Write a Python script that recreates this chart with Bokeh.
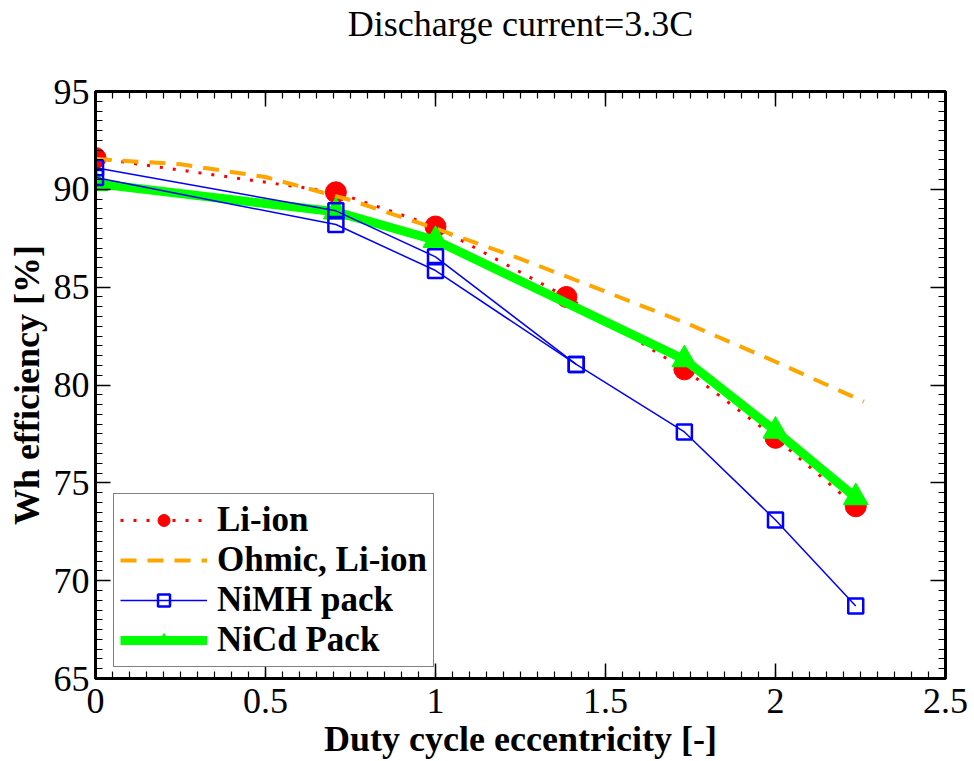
from bokeh.plotting import figure
from bokeh.models import (LinearAxis, SingleIntervalTicker, Legend, LegendItem,
                          CustomLabelingPolicy)
from bokeh.embed import file_html
from bokeh.resources import INLINE

# ---- data ----
x_li = [0.0, 0.707, 1.0, 1.385, 1.732, 2.0, 2.236]
y_li = [91.6, 89.85, 88.1, 84.5, 80.8, 77.3, 73.8]

x_ohm = [0.0, 0.25, 0.5, 0.75, 1.0, 1.25, 1.5, 1.75, 2.0, 2.26]
y_ohm = [91.55, 91.28, 90.63, 89.45, 88.0, 86.45, 84.77, 83.07, 81.19, 79.15]

x_nimh = [0.0, 0.707, 1.0, 1.414, 1.732, 2.0, 2.236]
y_nimh = [91.1, 88.9, 86.55, 81.05, 77.6, 73.1, 68.7]
x_nimh2 = [0.0, 0.707, 1.0, 1.414]
y_nimh2 = [90.6, 88.2, 85.85, 81.05]

x_nicd = [0.0, 0.707, 1.0, 1.732, 2.0, 2.236]
y_nicd = [90.3, 88.85, 87.4, 81.3, 77.65, 74.25]

x_ticks = [0, 0.5, 1, 1.5, 2, 2.5]
x_tick_labels = ["0", "0.5", "1", "1.5", "2", "2.5"]
y_ticks = [65, 70, 75, 80, 85, 90, 95]
y_tick_labels = ["65", "70", "75", "80", "85", "90", "95"]

title_text = "Discharge current=3.3C"

SERIF = "Liberation Serif"

p = figure(width=974, height=761, x_range=(0, 2.5), y_range=(65, 95),
           output_backend="svg", toolbar_location=None,
           min_border_left=95, min_border_right=29, min_border_top=91,
           min_border_bottom=74)

p.xgrid.visible = False
p.ygrid.visible = False
p.outline_line_color = "black"
p.outline_line_width = 3
p.background_fill_color = "white"
p.border_fill_color = "white"

def style_axis(ax, interval, show_labels):
    ax.ticker = SingleIntervalTicker(interval=interval, num_minor_ticks=10)
    ax.axis_line_color = "black"
    ax.axis_line_width = 3
    ax.major_tick_in = 15
    ax.major_tick_out = 0
    ax.minor_tick_in = 7
    ax.minor_tick_out = 0
    ax.major_tick_line_width = 1.5
    ax.minor_tick_line_width = 1.2
    ax.major_tick_line_color = "black"
    ax.minor_tick_line_color = "black"
    if show_labels:
        ax.major_label_text_font = SERIF
        ax.major_label_text_font_size = "36px"
        ax.major_label_text_color = "black"
        ax.axis_label_text_font = SERIF
        ax.axis_label_text_font_size = "36px"
        ax.axis_label_text_font_style = "bold"
        ax.axis_label_text_color = "black"
    else:
        ax.major_label_text_font_size = "0px"
        ax.major_label_standoff = 0
        ax.major_label_policy = CustomLabelingPolicy(code="return new Set()")

xa = p.xaxis[0]
ya = p.yaxis[0]
style_axis(xa, 0.5, True)
style_axis(ya, 5, True)
xa.major_label_overrides = dict(zip(x_ticks, x_tick_labels))
ya.major_label_overrides = dict(zip(y_ticks, y_tick_labels))
xa.axis_label = "Duty cycle eccentricity [-]"
ya.axis_label = "Wh efficiency [%]"
xa.major_label_standoff = 10
ya.major_label_standoff = 6
xa.axis_label_standoff = 3
ya.axis_label_standoff = 4

top = LinearAxis()
right = LinearAxis()
style_axis(top, 0.5, False)
style_axis(right, 5, False)
# chart title drawn as the label of the upper axis
top.axis_label = title_text
top.axis_label_text_font = SERIF
top.axis_label_text_font_size = "36px"
top.axis_label_text_font_style = "normal"
top.axis_label_text_color = "black"
top.axis_label_standoff = 48
p.add_layout(top, "above")
p.add_layout(right, "right")

# ---- series ----
li_line = p.line(x_li, y_li, line_color="red", line_width=3, line_dash="3 10")
li_pts = p.scatter(x_li, y_li, marker="circle", size=21, fill_color="red",
                   line_color="red")

ohm_line = p.line(x_ohm, y_ohm, line_color="#FFA500", line_width=4,
                  line_dash="16 11")

nicd_line = p.line(x_nicd, y_nicd, line_color="#00FF00", line_width=9)
nicd_pts = p.scatter(x_nicd, y_nicd, marker="triangle", size=25,
                     fill_color="#00FF00", line_color="#00FF00")

nimh_line2 = p.line(x_nimh2, y_nimh2, line_color="#0000FF", line_width=1.5)
nimh_pts2 = p.scatter(x_nimh2, y_nimh2, marker="square", size=15,
                      fill_color=None, line_color="#0000FF", line_width=2.5)
nimh_line = p.line(x_nimh, y_nimh, line_color="#0000FF", line_width=1.5)
nimh_pts = p.scatter(x_nimh, y_nimh, marker="square", size=15,
                     fill_color=None, line_color="#0000FF", line_width=2.5)

legend = Legend(items=[
    LegendItem(label="Li-ion", renderers=[li_line, li_pts]),
    LegendItem(label="Ohmic, Li-ion", renderers=[ohm_line]),
    LegendItem(label="NiMH pack", renderers=[nimh_line, nimh_pts]),
    LegendItem(label="NiCd Pack", renderers=[nicd_line, nicd_pts]),
], location=(18, 11))
legend.label_text_font = SERIF
legend.label_text_font_size = "35px"
legend.label_text_font_style = "bold"
legend.label_text_color = "black"
legend.border_line_color = "black"
legend.border_line_width = 1.5
legend.background_fill_color = "white"
legend.background_fill_alpha = 1
legend.padding = 6
legend.spacing = 0
legend.margin = 0
legend.glyph_width = 87
legend.glyph_height = 30
legend.label_height = 30
legend.label_standoff = 10
p.add_layout(legend)

open("out.html", "w").write(file_html(p, INLINE))
